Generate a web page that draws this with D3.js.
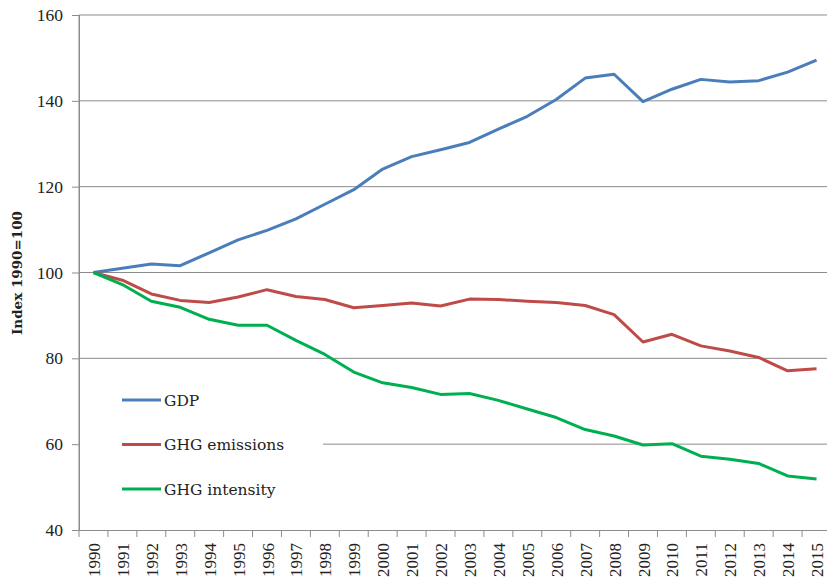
<!DOCTYPE html>
<html lang="en">
<head>
<meta charset="utf-8">
<title>GDP and GHG index</title>
<script src="https://d3js.org/d3.v7.min.js"></script>
<style>
  body { margin: 0; background: #fff; }
  text { fill: #222; }
</style>
</head>
<body>
<script>
// data (index 1990 = 100)
var years = ["1990","1991","1992","1993","1994","1995","1996","1997","1998","1999","2000","2001","2002",
             "2003","2004","2005","2006","2007","2008","2009","2010","2011","2012","2013","2014","2015"];
var gdp = [100, 101.0, 102.0, 101.6, 104.6, 107.6, 109.8, 112.5, 115.9, 119.3, 124.1, 127.0, 128.6,
           130.3, 133.4, 136.4, 140.3, 145.3, 146.2, 139.8, 142.7, 145.0, 144.4, 144.7, 146.7, 149.5];
var ghgEmissions = [100, 98.2, 95.0, 93.5, 93.0, 94.3, 96.0, 94.4, 93.7, 91.8, 92.3, 92.9, 92.2,
                    93.8, 93.7, 93.3, 93.0, 92.3, 90.2, 83.8, 85.6, 82.9, 81.7, 80.2, 77.1, 77.6];
var ghgIntensity = [100, 97.2, 93.3, 91.9, 89.1, 87.7, 87.7, 84.2, 80.9, 76.8, 74.3, 73.2, 71.6,
                    71.8, 70.2, 68.2, 66.2, 63.4, 61.9, 59.8, 60.1, 57.2, 56.5, 55.5, 52.6, 51.9];
var yTicks = [40, 60, 80, 100, 120, 140, 160];
var seriesNames = ["GDP", "GHG emissions", "GHG intensity"];
var seriesColors = ["#4a7ebb", "#be4b48", "#00b050"];

var w = 827, h = 578;
var padLeft = 79, padRight = 831, padTop = 15, padBottom = 530;
var numFont = "'Liberation Serif', serif";
var textFont = "'DejaVu Serif', serif";

var svg = d3.select("body").append("svg")
  .attr("width", w)
  .attr("height", h);

var x = d3.scaleBand().domain(years).range([padLeft, padRight]);
var y = d3.scaleLinear().domain([40, 160]).range([padBottom, padTop]);

// gridlines
svg.append("g")
  .selectAll("line")
  .data(yTicks.slice(1))
  .enter().append("line")
  .attr("x1", padLeft).attr("x2", padRight)
  .attr("y1", function(d) { return y(d); })
  .attr("y2", function(d) { return y(d); })
  .attr("stroke", "#8c8c8c")
  .attr("stroke-width", 1);

// y axis
var yAxis = d3.axisLeft(y).tickValues(yTicks).tickSize(7).tickPadding(9);
var gy = svg.append("g")
  .attr("transform", "translate(" + padLeft + ",0)")
  .call(yAxis);
gy.select(".domain").attr("stroke", "#8c8c8c");
gy.selectAll(".tick line").attr("stroke", "#8c8c8c");
gy.selectAll(".tick text")
  .style("font-family", numFont)
  .style("font-size", "17.5px")
  .attr("fill", "#222");

// x axis: ticks between categories
var xAxis = d3.axisBottom(x).tickSize(0).tickFormat("");
var gx = svg.append("g")
  .attr("transform", "translate(0," + padBottom + ")")
  .call(xAxis);
gx.select(".domain").attr("stroke", "#8c8c8c");
gx.selectAll(".edge")
  .data(years)
  .enter().append("line")
  .attr("x1", function(d) { return x(d); })
  .attr("x2", function(d) { return x(d); })
  .attr("y1", 0).attr("y2", 7)
  .attr("stroke", "#8c8c8c");
gx.selectAll(".yr")
  .data(years)
  .enter().append("text")
  .attr("transform", function(d) {
    return "translate(" + (x(d) + x.bandwidth() / 2 + 6.5) + ",13) rotate(-90)";
  })
  .attr("text-anchor", "end")
  .style("font-family", numFont)
  .style("font-size", "17px")
  .attr("fill", "#222")
  .text(function(d) { return d; });

// y axis title
svg.append("text")
  .attr("transform", "translate(22,273) rotate(-90)")
  .attr("text-anchor", "middle")
  .style("font-family", textFont)
  .style("font-weight", "bold")
  .style("font-size", "13.5px")
  .text("Index 1990=100");

// lines
var line = d3.line()
  .x(function(d, i) { return x(years[i]) + x.bandwidth() / 2; })
  .y(function(d) { return y(d); });

[gdp, ghgEmissions, ghgIntensity].forEach(function(s, k) {
  svg.append("path")
    .datum(s)
    .attr("d", line)
    .attr("fill", "none")
    .attr("stroke", seriesColors[k])
    .attr("stroke-width", 3)
    .attr("stroke-linejoin", "round");
});

// legend
var legend = svg.append("g");
legend.append("rect")
  .attr("x", padLeft + 1).attr("y", 378)
  .attr("width", 323 - padLeft - 1).attr("height", 130)
  .attr("fill", "#fff");
var entries = legend.selectAll(".entry")
  .data(seriesNames)
  .enter().append("g")
  .attr("transform", function(d, i) { return "translate(0," + (400 + i * 44.5) + ")"; });
entries.append("line")
  .attr("x1", 122).attr("x2", 161)
  .attr("y1", 0).attr("y2", 0)
  .attr("stroke", function(d, i) { return seriesColors[i]; })
  .attr("stroke-width", 3);
entries.append("text")
  .attr("x", 164).attr("y", 5.5)
  .style("font-family", textFont)
  .style("font-size", "15.5px")
  .text(function(d) { return d; });
// redraw the axis line over the legend box
svg.append("line")
  .attr("x1", padLeft).attr("x2", padLeft)
  .attr("y1", padTop).attr("y2", padBottom)
  .attr("stroke", "#8c8c8c");
</script>
</body>
</html>
